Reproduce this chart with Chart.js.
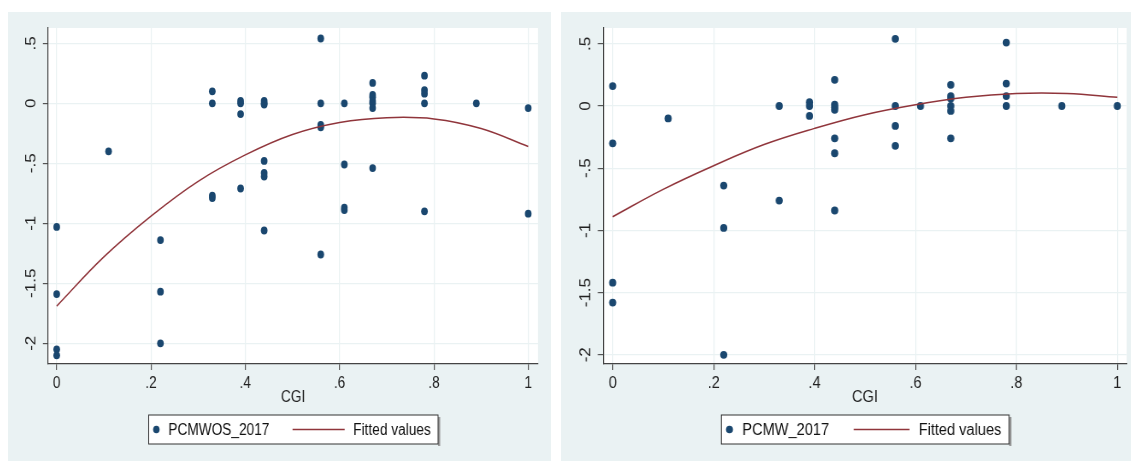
<!DOCTYPE html>
<html>
<head>
<meta charset="utf-8">
<script src="https://cdn.jsdelivr.net/npm/chart.js@4.4.0/dist/chart.umd.min.js"></script>
<style>
    body { margin: 0; background: #fff; width: 1131px; height: 461px; overflow: hidden; position: relative; }
    .panel { position: absolute; top: 12px; transform-origin: 0 0; }
    canvas { display: block; }
</style>
</head>
<body>
<div class="panel" id="wrapLeft" style="left:8px; transform:scaleX(0.855)"><canvas id="left" width="635" height="449"></canvas></div>
<div class="panel" id="wrapRight" style="left:561px; transform:scaleX(0.913)"><canvas id="right" width="624" height="449"></canvas></div>
<script>
// ---- data ----
var cgiLeft = [0, 0, 0, 0, 0.11, 0.22, 0.22, 0.22, 0.33, 0.33, 0.33, 0.33,
    0.39, 0.39, 0.39, 0.39, 0.44, 0.44, 0.44, 0.44, 0.44, 0.44, 0.44,
    0.56, 0.56, 0.56, 0.56, 0.56, 0.61, 0.61, 0.61, 0.61,
    0.67, 0.67, 0.67, 0.67, 0.67, 0.67, 0.67, 0.78, 0.78, 0.78, 0.78, 0.78, 0.89, 1, 1];
var pcmwos2017 = [-1.03, -1.59, -2.05, -2.10, -0.40, -1.14, -1.57, -2.00, 0.10, 0.00, -0.77, -0.79,
    0.02, 0.00, -0.09, -0.71, 0.02, 0.00, -0.01, -0.48, -0.58, -0.61, -1.06,
    0.54, 0.00, -0.18, -0.20, -1.26, 0.00, -0.51, -0.87, -0.89,
    0.17, 0.07, 0.05, 0.02, 0.00, -0.04, -0.54, 0.23, 0.11, 0.08, 0.00, -0.90, 0.00, -0.04, -0.92];

var cgiRight = [0, 0, 0, 0, 0.11, 0.22, 0.22, 0.22, 0.33, 0.33, 0.39, 0.39, 0.39,
    0.44, 0.44, 0.44, 0.44, 0.44, 0.44, 0.44, 0.56, 0.56, 0.56, 0.56, 0.61,
    0.67, 0.67, 0.67, 0.67, 0.67, 0.67, 0.78, 0.78, 0.78, 0.78, 0.89, 1];
var pcmw2017 = [0.16, -0.30, -1.42, -1.58, -0.10, -0.64, -0.98, -2.00, 0.00, -0.76, 0.03, 0.00, -0.08,
    0.21, 0.01, -0.01, -0.03, -0.26, -0.38, -0.84, 0.54, 0.00, -0.16, -0.32, 0.00,
    0.17, 0.08, 0.06, 0.00, -0.04, -0.26, 0.51, 0.18, 0.08, 0.00, 0.00, 0.00];

// fitted values (quadratic fit line), read at these CGI values
var fitX = [0, 0.1, 0.2, 0.3, 0.4, 0.5, 0.6, 0.7, 0.8, 0.9, 1];
var fitLeft = [-1.69, -1.28, -0.94, -0.65, -0.43, -0.26, -0.16, -0.12, -0.13, -0.21, -0.36];
var fitRight = [-0.89, -0.67, -0.48, -0.31, -0.18, -0.07, 0.01, 0.07, 0.10, 0.10, 0.07];

var xTicks = [0, 0.2, 0.4, 0.6, 0.8, 1];
var yTicks = [0.5, 0, -0.5, -1, -1.5, -2];
var xTitle = 'CGI';
var fitLabel = 'Fitted values';

var BG = '#eaf2f3';
var DOT = '#1a476f';
var FIT = '#90353b';
var FONT = '"Liberation Sans", Arial, sans-serif';

// Stata style numbers: .5, -.5, 0, 1
function stataFmt(v) {
    var s = String(Math.round(v * 100) / 100);
    return s.replace(/^(-?)0\./, '$1.');
}

function points(xs, ys) {
    return xs.map(function(x, i) { return {x: x, y: ys[i]}; });
}

// background, white plot region, rotated y labels and the boxed legend
var stataPlugin = {
    id: 'stata',
    beforeDraw: function(chart) {
        var ctx = chart.ctx, a = chart.chartArea;
        ctx.save();
        ctx.fillStyle = BG;
        ctx.fillRect(0, 0, chart.width, chart.height);
        ctx.fillStyle = '#fff';
        ctx.fillRect(a.left, a.top, a.right - a.left, a.bottom - a.top);
        ctx.restore();
    },
    afterDraw: function(chart) {
        var ctx = chart.ctx, a = chart.chartArea;
        var ys = chart.scales.y;
        ctx.save();
        ctx.fillStyle = '#222';
        ctx.font = '17px ' + FONT;
        ctx.textAlign = 'center';
        ctx.textBaseline = 'middle';
        ys.ticks.forEach(function(t) {
            var py = ys.getPixelForValue(t.value);
            ctx.save();
            ctx.translate(a.left - chart.options.plugins.stata.labelOffset, py);
            ctx.rotate(-Math.PI / 2);
            ctx.fillText(stataFmt(t.value), 0, 0);
            ctx.restore();
        });

        // legend
        var ds = chart.data.datasets;
        var name = ds[1].label, fit = ds[0].label;
        ctx.font = '16px ' + FONT;
        var w1 = ctx.measureText(name).width;
        var w2 = ctx.measureText(fit).width;
        var boxW = 9 + 14 + w1 + 27 + 61 + 10 + w2 + 8.5;
        var boxH = 29, boxTop = 403;
        var boxLeft = Math.round((a.left + a.right) / 2 - boxW / 2) + 0.5;
        var cy = boxTop + boxH / 2;
        ctx.fillStyle = '#9a9a9a';
        ctx.fillRect(boxLeft + boxW, boxTop + 2, 2.5, boxH);
        ctx.fillStyle = '#fff';
        ctx.fillRect(boxLeft, boxTop, boxW, boxH);
        ctx.strokeStyle = '#333';
        ctx.lineWidth = 1;
        ctx.strokeRect(boxLeft, boxTop, boxW, boxH);

        var x = boxLeft + 9;
        ctx.fillStyle = DOT;
        ctx.beginPath();
        ctx.arc(x, cy, 3.8, 0, Math.PI * 2);
        ctx.fill();
        x += 14;
        ctx.fillStyle = '#111';
        ctx.textAlign = 'left';
        ctx.fillText(name, x, cy + 1);
        x += w1 + 27;
        ctx.strokeStyle = FIT;
        ctx.lineWidth = 1.5;
        ctx.beginPath();
        ctx.moveTo(x, cy);
        ctx.lineTo(x + 61, cy);
        ctx.stroke();
        x += 61 + 10;
        ctx.fillText(fit, x, cy + 1);
        ctx.restore();
    }
};

function makeChart(id, cfg) {
    var ctx = document.getElementById(id).getContext('2d');
    return new Chart(ctx, {
        type: 'scatter',
        data: {
            datasets: [{
                label: fitLabel,
                data: points(fitX, cfg.fit),
                showLine: true,
                borderColor: FIT,
                borderWidth: 1.5,
                pointRadius: 0,
                tension: 0.4,
                fill: false
            }, {
                label: cfg.name,
                data: points(cfg.x, cfg.y),
                backgroundColor: DOT,
                borderWidth: 0,
                pointRadius: 3.9,
                pointHoverRadius: 3.9
            }]
        },
        plugins: [stataPlugin],
        options: {
            responsive: false,
            animation: false,
            devicePixelRatio: 1,
            layout: { padding: { left: 0, right: cfg.padRight, top: 16, bottom: 0 } },
            plugins: {
                legend: { display: false },
                tooltip: { enabled: false },
                stata: { labelOffset: cfg.labelOffset }
            },
            scales: {
                x: {
                    type: 'linear',
                    bounds: 'data',
                    min: cfg.xMin,
                    max: cfg.xMax,
                    afterBuildTicks: function(s) { s.ticks = xTicks.map(function(v) { return {value: v}; }); },
                    afterFit: function(s) { s.height = 97; },
                    grid: { color: BG, lineWidth: 1.2, tickColor: '#555', tickLength: 6 },
                    border: { color: '#444', width: 1.2 },
                    ticks: {
                        color: '#222',
                        padding: 4,
                        maxRotation: 0,
                        font: { family: FONT, size: 16 },
                        callback: function(v) { return stataFmt(v); }
                    },
                    title: {
                        display: true,
                        text: xTitle,
                        color: '#222',
                        font: { family: FONT, size: 16 },
                        padding: { top: 0, bottom: 54 }
                    }
                },
                y: {
                    type: 'linear',
                    bounds: 'data',
                    min: cfg.yMin,
                    max: cfg.yMax,
                    afterBuildTicks: function(s) { s.ticks = yTicks.map(function(v) { return {value: v}; }); },
                    afterFit: function(s) { s.width = cfg.axisW; },
                    grid: { color: BG, lineWidth: 1.2, tickColor: '#555', tickLength: 6 },
                    border: { color: '#444', width: 1.2 },
                    ticks: { display: false }
                }
            }
        }
    });
}

makeChart('left', {
    name: 'PCMWOS_2017', x: cgiLeft, y: pcmwos2017, fit: fitLeft,
    xMin: -0.0184, xMax: 1.0208, yMin: -2.1725, yMax: 0.6275,
    axisW: 46.8, padRight: 15.1, labelOffset: 19.5
});
makeChart('right', {
    name: 'PCMW_2017', x: cgiRight, y: pcmw2017, fit: fitRight,
    xMin: -0.0186, xMax: 1.0186, yMin: -2.074, yMax: 0.627,
    axisW: 46.3, padRight: 4.4, labelOffset: 18.7
});
</script>
</body>
</html>
